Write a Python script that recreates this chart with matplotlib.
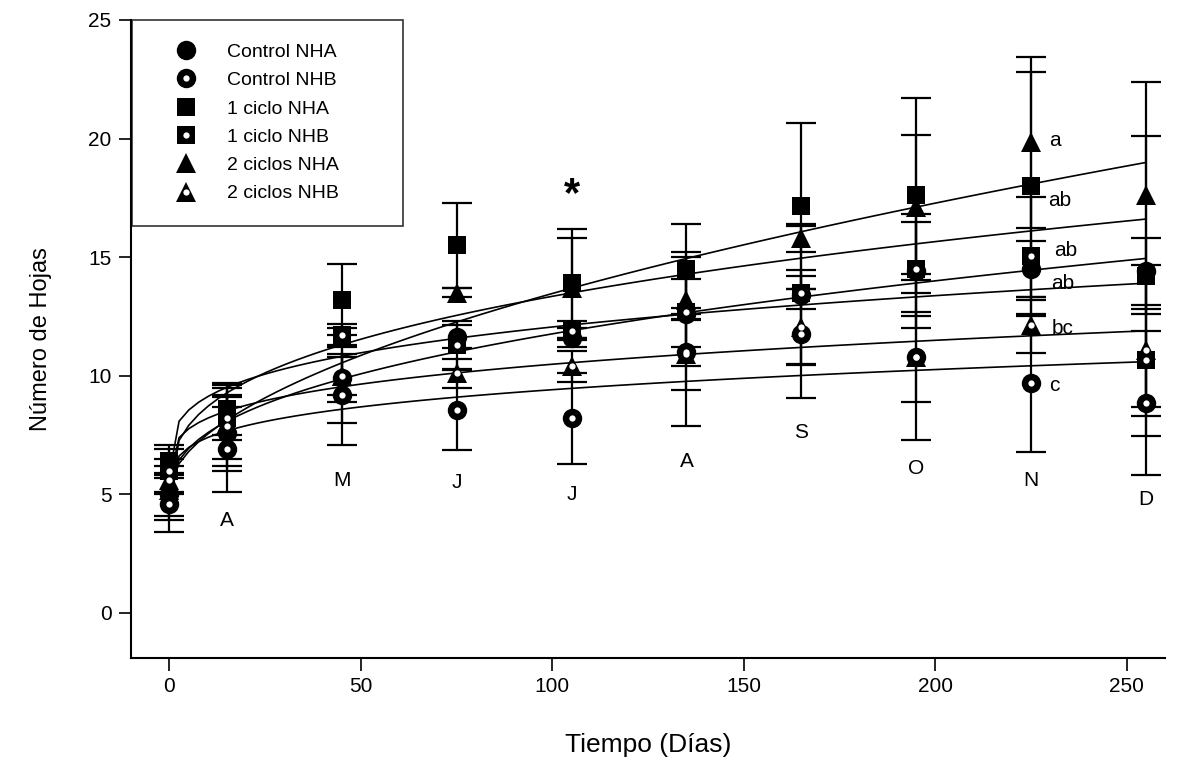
import numpy as np
import matplotlib
matplotlib.use("Agg")
import matplotlib.pyplot as plt

plt.rcParams['font.family'] = ['Liberation Sans', 'DejaVu Sans']

# ---------------- data ----------------
dias = [0, 15, 45, 75, 105, 135, 165, 195, 225, 255]

control_nha = [5.0, 7.6, 9.9, 11.65, 11.6, 12.6, 13.4, 14.4, 14.5, 14.4]
control_nhb = [4.6, 6.9, 9.2, 8.56, 8.2, 11.0, 11.75, 10.8, 9.7, 8.85]
ciclo1_nha = [6.4, 8.6, 13.2, 15.5, 13.9, 14.5, 17.16, 17.6, 18.0, 14.2]
ciclo1_nhb = [6.0, 8.2, 11.7, 11.3, 11.9, 12.7, 13.5, 14.5, 15.03, 10.65]
ciclo2_nha = [5.2, 8.0, 10.0, 13.5, 13.7, 13.2, 15.8, 17.1, 19.84, 17.6]
ciclo2_nhb = [5.6, 7.9, 10.0, 10.1, 10.4, 10.9, 12.07, 10.8, 12.14, 11.07]

err_control_nha = [0.9, 1.6, 1.0, 0.5, 0.4, 0.25, 2.9, 2.4, 1.2, 5.7]
err_control_nhb = [1.2, 1.8, 2.1, 1.7, 1.9, 3.1, 2.7, 3.5, 2.9, 3.05]
err_ciclo1_nha = [0.7, 1.1, 1.5, 1.8, 2.3, 1.9, 3.5, 4.1, 4.8, 1.6]
err_ciclo1_nhb = [0.9, 0.9, 0.5, 1.0, 0.4, 2.3, 0.7, 2.0, 2.5, 2.35]
err_ciclo2_nha = [1.3, 1.5, 2.0, 0.2, 2.1, 2.0, 0.6, 3.05, 3.6, 4.8]
err_ciclo2_nhb = [0.6, 1.7, 0.8, 0.6, 0.65, 1.5, 1.6, 1.9, 1.2, 3.6]

# regression curves  y = y0 + a * x**b  (one per series)
fit_y0 = [4.903, 4.531, 4.95, 5.839, 5.178, 5.541]
fit_a = [1.0548, 1.68, 1.676, 1.73, 0.672, 1.44]
fit_b = [0.4067, 0.2316, 0.35, 0.2778, 0.5456, 0.2679]

labels = ["Control NHA", "Control NHB", "1 ciclo NHA", "1 ciclo NHB",
          "2 ciclos NHA", "2 ciclos NHB"]

meses = ["A", "M", "J", "J", "A", "S", "O", "N", "D"]
meses_x = [15, 45, 75, 105, 135, 165, 195, 225, 255]
meses_y = [3.9, 5.6, 5.5, 5.0, 6.4, 7.6, 6.1, 5.6, 4.8]

letras = ["a", "ab", "ab", "ab", "bc", "c"]
letras_x = [225, 225, 225, 225, 225, 225]
letras_y = [19.9, 17.4, 15.3, 13.9, 12.0, 9.6]
letras_dx = [6.3, 7.5, 9.0, 8.2, 8.2, 6.0]

# ---------------- style per series ----------------
series = [control_nha, control_nhb, ciclo1_nha, ciclo1_nhb, ciclo2_nha, ciclo2_nhb]
errs = [err_control_nha, err_control_nhb, err_ciclo1_nha, err_ciclo1_nhb,
        err_ciclo2_nha, err_ciclo2_nhb]
markers = ['o', 'o', 's', 's', '^', '^']
hollow = [False, True, False, True, False, True]
msizes = [14, 14, 12.5, 12.5, 14, 14]

fig = plt.figure(figsize=(11.77, 7.68), dpi=100)
ax = fig.add_axes([0.1113, 0.1432, 0.8787, 0.8308])

x = np.asarray(dias, float)
xs = np.linspace(0, 255, 101)

handles = []
for ys, e, m, h, ms, y0, a, b in zip(series, errs, markers, hollow, msizes,
                                     fit_y0, fit_a, fit_b):
    ax.plot(xs, y0 + a * xs ** b, color='black', lw=1.2, zorder=2)
    ax.errorbar(x, ys, yerr=e, fmt='none', ecolor='black', elinewidth=1.6,
                capsize=11, capthick=1.6, zorder=3)
    l1, = ax.plot(x, ys, linestyle='none', marker=m, ms=ms, color='black',
                  markeredgewidth=0, zorder=4)
    if h:
        l2, = ax.plot(x, ys, linestyle='none', marker='o', ms=4.5, color='white',
                      markeredgewidth=0, zorder=5)
        handles.append((l1, l2))
    else:
        handles.append(l1)

for t, xx, yy in zip(meses, meses_x, meses_y):
    ax.text(xx, yy, t, ha='center', va='center', fontsize=15)

for t, xx, yy, dx in zip(letras, letras_x, letras_y, letras_dx):
    ax.text(xx + dx, yy, t, ha='center', va='center', fontsize=15)

ax.text(105, 17.6, "*", ha='center', va='center', fontsize=30, fontweight='bold')

ax.set_xlim(-10, 260)
ax.set_ylim(-1.9, 25)
ax.set_xticks([0, 50, 100, 150, 200, 250])
ax.set_yticks([0, 5, 10, 15, 20, 25])
ax.tick_params(axis='both', direction='out', length=9, width=1.2, labelsize=15, pad=5)
for s in ['top', 'right']:
    ax.spines[s].set_visible(False)
for s in ['left', 'bottom']:
    ax.spines[s].set_linewidth(1.5)

ax.set_xlabel("Tiempo (Días)", fontsize=19, labelpad=26)
ax.set_ylabel("Número de Hojas", fontsize=17, labelpad=26)

leg = ax.legend(handles, labels, loc='upper left',
                bbox_to_anchor=(0.001, 0.679, 0.262, 0.321), mode='expand',
                fontsize=14, frameon=True, fancybox=False, edgecolor='black',
                borderpad=1.2, labelspacing=0.55, handlelength=3.2,
                handletextpad=0.5, borderaxespad=0)
leg.get_frame().set_linewidth(1.2)

fig.savefig("out.png", dpi=100)
